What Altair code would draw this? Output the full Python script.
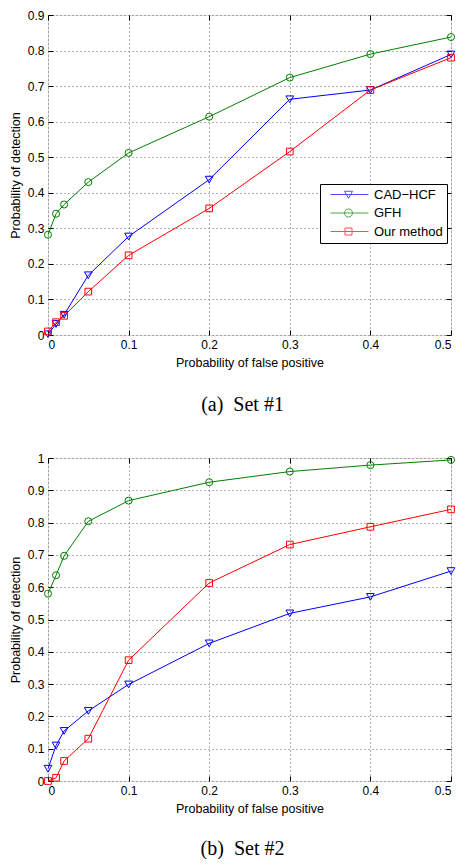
import altair as alt
import pandas as pd

# ---- data ----
fp = [0, 0.01, 0.02, 0.05, 0.1, 0.2, 0.3, 0.4, 0.5]

set1_cad = [0.002, 0.031, 0.057, 0.168, 0.277, 0.437, 0.663, 0.689, 0.789]
set1_gfh = [0.282, 0.341, 0.367, 0.430, 0.512, 0.614, 0.724, 0.790, 0.838]
set1_our = [0.010, 0.036, 0.054, 0.122, 0.224, 0.356, 0.516, 0.689, 0.780]

set2_cad = [0.038, 0.110, 0.155, 0.217, 0.299, 0.426, 0.519, 0.570, 0.650]
set2_gfh = [0.580, 0.637, 0.697, 0.804, 0.868, 0.925, 0.958, 0.978, 0.994]
set2_our = [0.000, 0.010, 0.062, 0.131, 0.374, 0.613, 0.732, 0.787, 0.841]

methods = ["CAD\u2212HCF", "GFH", "Our method"]
colors = ["#0000ff", "#008000", "#ff0000"]
shapes = ["triangle-down", "circle", "square"]
sizes = [60, 50, 45]

x_ticks = [0, 0.1, 0.2, 0.3, 0.4, 0.5]
y_ticks1 = [0, 0.1, 0.2, 0.3, 0.4, 0.5, 0.6, 0.7, 0.8, 0.9]
y_ticks2 = [0, 0.1, 0.2, 0.3, 0.4, 0.5, 0.6, 0.7, 0.8, 0.9, 1]

captions = ["(a)\u2002Set #1", "(b)\u2002Set #2"]

# legend glyphs: line with marker (unit = 5 px for symbolSize 100)
legend_paths = [
    "M0,0H7.6M2.8,-0.65H4.4L3.6,0.75Z",
    "M0,0H7.6M4.4,0A0.8,0.8,0,1,1,2.8,0A0.8,0.8,0,1,1,4.4,0Z",
    "M0,0H7.6M2.9,-0.7H4.3V0.7H2.9Z",
]

AX_FONT = "Liberation Sans"
PLOT_W = 403


def make_df(series):
    rows = []
    for name, vals in zip(methods, series):
        for xv, yv in zip(fp, vals):
            rows.append({"fp": xv, "pd": yv, "method": name})
    return pd.DataFrame(rows)


def panel(df, ymax, yticks, caption, h, cap_offset, leg_y):
    xscale = alt.Scale(domain=[0, 0.5], nice=False, zero=False)
    yscale = alt.Scale(domain=[0, ymax], nice=False, zero=False)
    x_axis = alt.Axis(values=x_ticks, format="~g", title="Probability of false positive",
                      orient="bottom",
                      grid=True, gridDash=[1, 3], gridColor="#666", gridWidth=1,
                      domain=False, tickSize=5, offset=-5, tickColor="black",
                      labelPadding=4, labelFont=AX_FONT, labelFontSize=12, labelColor="black",
                      titleFont=AX_FONT, titleFontSize=12.5, titleFontWeight="normal",
                      titleColor="black", titlePadding=6)
    y_axis = alt.Axis(values=yticks, format="~g", title="Probability of detection",
                      orient="left",
                      grid=True, gridDash=[1, 3], gridColor="#666", gridWidth=1,
                      domain=False, tickSize=5, offset=-5, tickColor="black",
                      labelPadding=4, labelFont=AX_FONT, labelFontSize=12, labelColor="black",
                      titleFont=AX_FONT, titleFontSize=12.5, titleFontWeight="normal",
                      titleColor="black", titlePadding=5)
    series_layers = []
    for name, c, s, sz in zip(methods, colors, shapes, sizes):
        series_layers.append(
            alt.Chart(df)
            .transform_filter(alt.datum.method == name)
            .mark_line(color=c, strokeWidth=1,
                       point=alt.OverlayMarkDef(shape=s, filled=False, size=sz,
                                                color=c, strokeWidth=1))
            .encode(x=alt.X("fp:Q", scale=xscale, axis=x_axis),
                    y=alt.Y("pd:Q", scale=yscale, axis=y_axis))
        )
    series = alt.layer(*series_layers)

    leg = alt.Legend(orient="none", legendX=PLOT_W - 131, legendY=leg_y, title=None,
                     strokeColor="black", fillColor="white", padding=4,
                     symbolSize=100, symbolStrokeWidth=1, labelOffset=37,
                     labelFont=AX_FONT, labelFontSize=13, labelColor="black",
                     rowPadding=4.5, labelLimit=300)
    top_axis = alt.Axis(values=x_ticks, labels=False, title=None, grid=False, domain=False,
                        tickSize=5, offset=-5, tickColor="black", orient="top")
    right_axis = alt.Axis(values=yticks, labels=False, title=None, grid=False, domain=False,
                          tickSize=5, offset=-5, tickColor="black", orient="right")
    # legend / frame layer: no rows drawn (scales have explicit domains)
    frame_layer = (
        alt.Chart(df)
        .transform_filter("datum.fp < 0")
        .mark_point(filled=False, strokeWidth=1, size=100)
        .encode(x=alt.X("fp:Q", scale=xscale, axis=top_axis),
                y=alt.Y("pd:Q", scale=yscale, axis=right_axis),
                color=alt.Color("method:N", scale=alt.Scale(domain=methods, range=colors), legend=leg),
                shape=alt.Shape("method:N", scale=alt.Scale(domain=methods, range=legend_paths), legend=leg))
    )
    return (
        alt.layer(series, frame_layer)
        .resolve_axis(x="independent", y="independent")
        .properties(width=PLOT_W, height=h,
                    title=alt.TitleParams(text=caption, orient="bottom", font="Liberation Serif",
                                          fontSize=20, fontWeight="normal", color="black",
                                          offset=cap_offset, anchor="middle", dx=-7))
    )


df1 = make_df([set1_cad, set1_gfh, set1_our])
df2 = make_df([set2_cad, set2_gfh, set2_our])

p1 = panel(df1, 0.9, y_ticks1, captions[0], 320, 26.5, 169)
p2 = panel(df2, 1.0, y_ticks2, captions[1], 323, 24, 173)

chart = (
    alt.vconcat(p1, p2, spacing=35)
    .properties(padding=0)
    .configure_view(stroke="black", strokeWidth=1)
    .configure(background="white")
)

chart.save("out.html", embed_options={"renderer": "svg", "actions": False})
